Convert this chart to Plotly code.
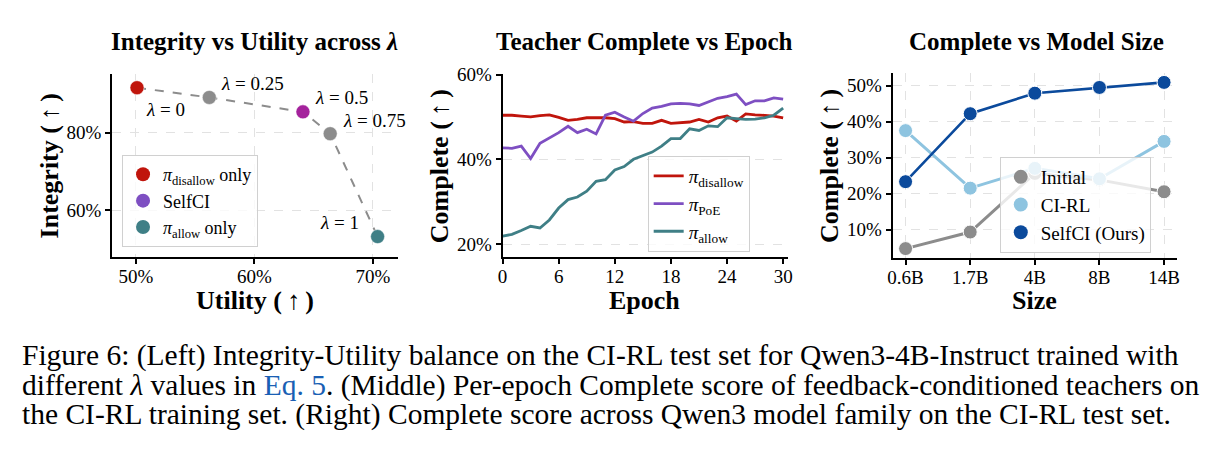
import plotly.graph_objects as go

# ---------------- data ----------------
lambdas = [0, 0.25, 0.5, 0.75, 1]
utility = [50.1, 56.2, 64.1, 66.4, 70.4]
integrity = [91.5, 89.0, 85.3, 79.7, 53.3]
lambda_labels = ["<i>λ</i> = 0", "<i>λ</i> = 0.25", "<i>λ</i> = 0.5", "<i>λ</i> = 0.75", "<i>λ</i> = 1"]

epochs = list(range(31))
pi_disallow = [50.4, 50.4, 50.2, 50.0, 50.3, 50.5, 49.9, 49.2, 49.4, 49.8, 49.8, 49.8, 49.6, 48.8, 48.9,
               48.5, 48.5, 49.2, 48.5, 48.6, 48.8, 49.4, 48.8, 49.8, 50.2, 49.0, 50.7, 50.5, 50.3, 50.2, 49.8]
pi_poe = [42.7, 42.6, 43.1, 40.2, 43.8, 45.0, 46.3, 47.8, 46.3, 47.1, 46.0, 50.4, 51.1, 50.0, 49.0,
          50.8, 52.1, 52.5, 53.1, 53.2, 53.1, 52.7, 53.6, 54.4, 54.8, 55.4, 52.9, 53.8, 53.8, 54.5, 54.2]
pi_allow = [21.9, 22.3, 23.2, 24.2, 23.8, 25.7, 28.5, 30.5, 31.1, 32.5, 34.8, 35.2, 37.5, 38.3, 40.0,
            40.8, 41.7, 43.1, 44.9, 44.9, 47.2, 46.8, 47.9, 47.7, 49.8, 49.6, 49.4, 49.5, 49.8, 50.4, 52.1]

sizes = ["0.6B", "1.7B", "4B", "8B", "14B"]
initial = [4.7, 9.3, 25.6, 23.8, 20.5]
ci_rl = [37.5, 21.5, 27.0, 24.1, 34.5]
selfci = [23.3, 42.2, 47.9, 49.5, 50.9]

left_xticks = [50, 60, 70]
left_yticks = [60, 80]
mid_xticks = [0, 6, 12, 18, 24, 30]
mid_yticks = [20, 40, 60]
right_yticks = [10, 20, 30, 40, 50]

caption_lines = [
    "Figure 6: (Left) Integrity-Utility balance on the CI-RL test set for Qwen3-4B-Instruct trained with",
    "different <i>λ</i> values in <span style='color:#1a5fb4'>Eq. 5</span>. (Middle) Per-epoch Complete score of feedback-conditioned teachers on",
    "the CI-RL training set. (Right) Complete score across Qwen3 model family on the CI-RL test set.",
]

# ---------------- style ----------------
W, H = 1219, 451
FONT = "Liberation Serif"
RED = "#c0150c"
MAGENTA = "#a4229c"
PURPLE = "#7e4fc2"
TEAL = "#3f7f86"
GRAY = "#8c8c8c"
LIGHTBLUE = "#8ec4e0"
DARKBLUE = "#0b4a9c"
GRID = "#e2e2e2"
ARROW = "(\u2009↑\u2009)"


def px(x):
    return x / W


def py(y):
    return 1 - y / H


def pct(vals):
    return [f"{v}%" for v in vals]


fig = go.Figure()

# ---------- left panel ----------
fig.add_trace(go.Scatter(x=utility, y=integrity, mode="lines",
                         line=dict(color=GRAY, width=2, dash="dash"),
                         showlegend=False, xaxis="x", yaxis="y", hoverinfo="skip"))
point_colors = [RED, GRAY, MAGENTA, GRAY, TEAL]
fig.add_trace(go.Scatter(x=utility, y=integrity, mode="markers",
                         marker=dict(color=point_colors, size=14, line=dict(color="white", width=0.5)),
                         showlegend=False, xaxis="x", yaxis="y"))
for name, col in [("<i>π</i><sub>disallow</sub> only", RED), ("SelfCI", PURPLE),
                  ("<i>π</i><sub>allow</sub> only", TEAL)]:
    fig.add_trace(go.Scatter(x=[None], y=[None], mode="markers", name=name,
                             marker=dict(color=col, size=14), legend="legend",
                             xaxis="x", yaxis="y"))

# ---------- middle panel ----------
for name, vals, col in [("<i>π</i><sub>disallow</sub>", pi_disallow, RED),
                        ("<i>π</i><sub>PoE</sub>", pi_poe, PURPLE),
                        ("<i>π</i><sub>allow</sub>", pi_allow, TEAL)]:
    fig.add_trace(go.Scatter(x=epochs, y=vals, mode="lines", name=name,
                             line=dict(color=col, width=2.8), legend="legend2",
                             xaxis="x2", yaxis="y2"))

# ---------- right panel ----------
for name, vals, col, lw in [("Initial", initial, GRAY, 3), ("CI-RL", ci_rl, LIGHTBLUE, 3),
                            ("SelfCI (Ours)", selfci, DARKBLUE, 2.6)]:
    fig.add_trace(go.Scatter(x=sizes, y=vals, mode="lines+markers", name=name,
                             line=dict(color=col, width=lw),
                             marker=dict(color=col, size=14, line=dict(color="white", width=1)),
                             showlegend=False, xaxis="x3", yaxis="y3"))
for name, col in [("Initial", GRAY), ("CI-RL", LIGHTBLUE), ("SelfCI (Ours)", DARKBLUE)]:
    fig.add_trace(go.Scatter(x=[None], y=[None], mode="markers", name=name,
                             marker=dict(color=col, size=14), legend="legend3",
                             xaxis="x3", yaxis="y3"))


def axis(**kw):
    base = dict(showline=True, linecolor="black", linewidth=2, ticks="outside",
                ticklen=5, tickwidth=1.5, tickcolor="black",
                tickfont=dict(family=FONT, size=19, color="black"),
                zeroline=False, mirror=False)
    base.update(kw)
    return base


grid = dict(showgrid=True, gridcolor=GRID, griddash="dash", gridwidth=1)

ytop, ybot = py(66), py(253.3)
fig.update_layout(
    width=W, height=H,
    margin=dict(l=0, r=0, t=0, b=0),
    paper_bgcolor="white", plot_bgcolor="white",
    font=dict(family=FONT, color="black", size=19),
    xaxis=axis(domain=[px(108), px(396)], range=[48.0, 72.1], tickmode="array",
               tickvals=left_xticks, ticktext=pct(left_xticks), anchor="y",
               ticklabelstandoff=-4, **grid),
    yaxis=axis(domain=[ybot, ytop], range=[48.0, 95.1], tickmode="array",
               tickvals=left_yticks, ticktext=pct(left_yticks), anchor="x", **grid),
    xaxis2=axis(domain=[px(501.7), px(789.3)], range=[0, 30.5], tickmode="array",
                tickvals=mid_xticks, ticktext=[str(v) for v in mid_xticks],
                showgrid=False, anchor="y2", ticklabelstandoff=-4),
    yaxis2=axis(domain=[ybot, ytop], range=[16.9, 60.2], tickmode="array",
                tickvals=mid_yticks, ticktext=pct(mid_yticks), anchor="x2", **grid),
    xaxis3=axis(domain=[px(895), px(1181.7)], range=[-0.2, 4.2], type="category",
                anchor="y3", ticklabelstandoff=-4, **grid),
    yaxis3=axis(domain=[py(254), py(65)], range=[2.1, 53.6], tickmode="array",
                tickvals=right_yticks, ticktext=pct(right_yticks), anchor="x3", **grid),
    legend=dict(x=px(118), y=py(149), xanchor="left", yanchor="top",
                bgcolor="rgba(255,255,255,0.8)", bordercolor="#d0d0d0", borderwidth=1,
                font=dict(family=FONT, size=18), itemsizing="trace"),
    legend2=dict(x=px(648), y=py(150), xanchor="left", yanchor="top",
                 bgcolor="rgba(255,255,255,0.8)", bordercolor="#d0d0d0", borderwidth=1,
                 font=dict(family=FONT, size=19), entrywidth=100),
    legend3=dict(x=px(1003), y=py(151), xanchor="left", yanchor="top",
                 bgcolor="rgba(255,255,255,0.8)", bordercolor="#d0d0d0", borderwidth=1,
                 font=dict(family=FONT, size=19), itemsizing="trace", entrywidth=140),
)

ann = []
# lambda labels: pixel offsets (right, down) relative to their points
label_offsets = [(28, 22), (43, -14), (39, -14), (44, -13), (-38, -14)]
for u, v, t, (dx, dy) in zip(utility, integrity, lambda_labels, label_offsets):
    ann.append(dict(x=u, y=v, xref="x", yref="y", text=t, showarrow=False,
                    xshift=dx, yshift=-dy, font=dict(family=FONT, size=19)))

# panel titles
for cx, t in [(252, "<b>Integrity vs Utility across <i>λ</i></b>"),
              (645, "<b>Teacher Complete vs Epoch</b>"),
              (1040, "<b>Complete vs Model Size</b>")]:
    ann.append(dict(x=px(cx), y=py(33), xref="paper", yref="paper", text=t, showarrow=False,
                    xanchor="center", yanchor="middle", font=dict(family=FONT, size=25)))

# axis titles
for cx, t in [(252, f"<b>Utility {ARROW}</b>"), (645, "<b>Epoch</b>"), (1038, "<b>Size</b>")]:
    ann.append(dict(x=px(cx), y=py(297), xref="paper", yref="paper", text=t, showarrow=False,
                    xanchor="center", yanchor="middle", font=dict(family=FONT, size=26)))
for cx, cy, t in [(45, 160, f"<b>Integrity {ARROW}</b>"), (438, 160, f"<b>Complete {ARROW}</b>"),
                  (832, 160, f"<b>Complete {ARROW}</b>")]:
    ann.append(dict(x=px(cx), y=py(cy), xref="paper", yref="paper", text=t, showarrow=False,
                    textangle=-90, xanchor="center", yanchor="middle",
                    font=dict(family=FONT, size=26)))

# caption
for i, line in enumerate(caption_lines):
    ann.append(dict(x=px(16), y=py(354 + 30 * i), xref="paper", yref="paper", text=line,
                    showarrow=False, xanchor="left", yanchor="middle", align="left",
                    borderpad=0, font=dict(family=FONT, size=29.5, color="black")))

fig.update_layout(annotations=ann)
fig.write_html("out.html")
